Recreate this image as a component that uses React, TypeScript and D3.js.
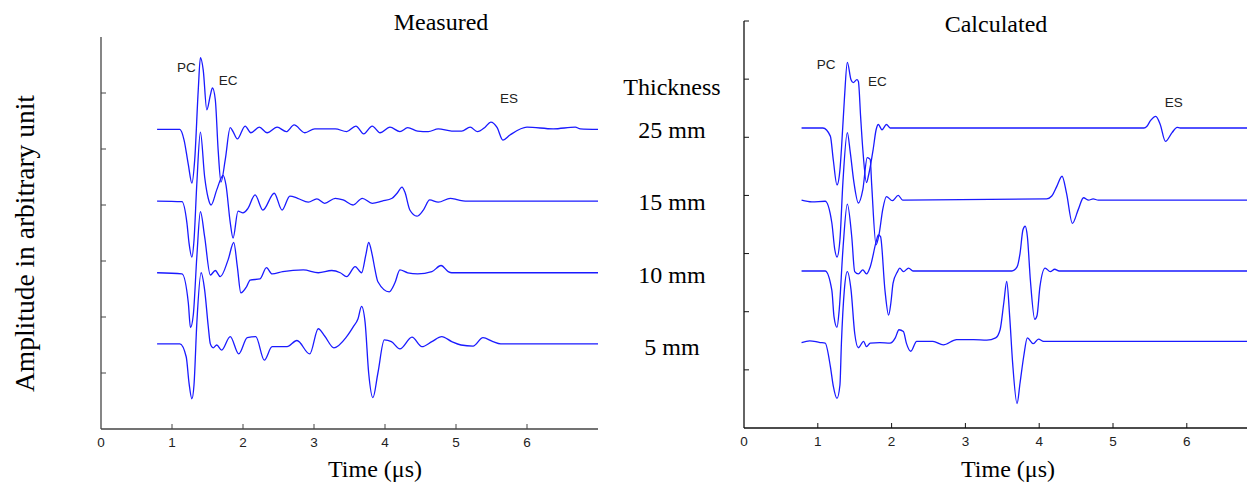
import React from "react";
import * as d3 from "d3";

type Pt = [number, number];

// ---- data (time in µs, amplitude in arbitrary axis units, relative to each trace's baseline) ----
const xTicks = [0, 1, 2, 3, 4, 5, 6];
const thicknessLabels = ["25 mm", "15 mm", "10 mm", "5 mm"];

const measuredOffsets = [5.35, 4.07, 2.79, 1.52];
const calculatedOffsets = [5.16, 3.92, 2.7, 1.49];

const measured25: Pt[] = [
  [0.79, 0], [1.11, 0], [1.17, -0.19], [1.23, -0.63], [1.28, -0.96], [1.32, -0.54], [1.37, 0.71],
  [1.4, 1.28], [1.44, 1.06], [1.49, 0.35], [1.54, 0.61], [1.57, 0.74], [1.61, 0.53], [1.65, -0.37],
  [1.69, -0.94], [1.75, -0.54], [1.82, 0.03], [1.86, -0.04], [1.92, -0.17], [2.03, 0.06], [2.11, -0.06],
  [2.23, 0.04], [2.34, -0.06], [2.48, 0.04], [2.61, -0.04], [2.72, 0.08], [2.87, -0.06], [3.01, 0.01],
  [3.3, 0.01], [3.46, -0.04], [3.59, 0.06], [3.7, -0.08], [3.82, 0.06], [3.93, -0.06], [4.07, 0.04],
  [4.21, -0.04], [4.32, 0.03], [4.46, -0.03], [4.61, -0.04], [4.75, 0.01], [4.94, -0.03], [5.08, -0.03],
  [5.2, 0.04], [5.3, -0.04], [5.41, 0.04], [5.49, 0.13], [5.58, 0.03], [5.66, -0.19], [5.76, -0.1],
  [6.0, 0.04], [6.37, 0.01], [6.68, 0.04], [6.75, 0.01], [7.0, 0],
];
const measured15: Pt[] = [
  [0.79, 0], [1.14, -0.01], [1.21, -0.39], [1.24, -0.75], [1.28, -1.0], [1.31, -0.7], [1.35, 0.32],
  [1.4, 1.23], [1.46, 0.43], [1.51, 0.05], [1.55, -0.07], [1.63, 0.2], [1.72, 0.46], [1.76, 0.29],
  [1.82, -0.38], [1.86, -0.66], [1.93, -0.18], [2.0, -0.21], [2.07, -0.13], [2.17, 0.11], [2.28, -0.16],
  [2.44, 0.14], [2.55, -0.16], [2.66, 0.09], [2.77, 0.05], [2.92, -0.02], [3.04, 0.04], [3.15, -0.04],
  [3.3, 0.05], [3.41, 0.02], [3.55, -0.07], [3.68, 0.05], [3.82, -0.04], [3.96, 0], [4.1, 0.05],
  [4.17, 0.14], [4.24, 0.25], [4.28, 0.16], [4.35, -0.16], [4.45, -0.27], [4.54, -0.16], [4.63, 0.02],
  [4.75, -0.02], [4.92, 0.05], [5.03, 0.02], [5.13, 0], [7.0, 0],
];
const measured10: Pt[] = [
  [0.79, 0], [1.14, -0.02], [1.23, -0.54], [1.26, -0.98], [1.3, -0.75], [1.35, 0.29], [1.4, 1.09],
  [1.46, 0.64], [1.54, -0.04], [1.61, 0.04], [1.68, -0.07], [1.79, 0.23], [1.87, 0.54], [1.92, 0.11],
  [1.97, -0.36], [2.05, -0.25], [2.1, -0.13], [2.24, -0.11], [2.33, 0.09], [2.41, -0.02], [2.56, 0.02],
  [2.85, 0.05], [3.06, 0], [3.25, 0.04], [3.37, 0], [3.46, -0.07], [3.58, 0.11], [3.67, 0], [3.73, 0.32],
  [3.77, 0.54], [3.82, 0.32], [3.86, 0.05], [3.9, -0.16], [4.06, -0.34], [4.14, -0.18], [4.21, 0.05],
  [4.32, 0], [4.46, -0.02], [4.66, 0.02], [4.79, 0.13], [4.89, 0.02], [4.94, 0], [7.0, 0],
];
const measured5: Pt[] = [
  [0.79, 0], [1.11, 0], [1.2, -0.23], [1.24, -0.7], [1.28, -0.98], [1.31, -0.73], [1.35, 0.38],
  [1.41, 1.27], [1.46, 0.96], [1.51, 0.32], [1.54, 0], [1.58, -0.07], [1.63, -0.02], [1.7, -0.11],
  [1.82, 0.13], [1.94, -0.18], [2.06, 0.11], [2.18, 0.13], [2.3, -0.29], [2.41, -0.05], [2.62, -0.05],
  [2.76, 0.06], [2.94, -0.18], [3.06, 0.27], [3.15, 0.14], [3.28, -0.07], [3.46, 0.13], [3.55, 0.3],
  [3.62, 0.45], [3.67, 0.67], [3.72, 0.38], [3.77, -0.52], [3.83, -0.96], [3.9, -0.52], [3.99, 0.07],
  [4.09, 0.04], [4.21, -0.09], [4.38, 0.12], [4.52, -0.05], [4.66, 0.04], [4.8, 0.13], [4.94, 0.04],
  [5.07, -0.02], [5.24, -0.04], [5.38, 0.11], [5.52, 0.04], [5.63, 0], [7.0, 0],
];

const calculated25: Pt[] = [
  [0.78, 0], [1.07, 0], [1.17, -0.14], [1.21, -0.55], [1.26, -0.98], [1.3, -0.72], [1.32, -0.37],
  [1.36, 0.49], [1.4, 1.13], [1.45, 0.83], [1.48, 0.78], [1.53, 0.83], [1.55, 0.8], [1.58, 0.2],
  [1.61, -0.37], [1.66, -0.94], [1.69, -0.8], [1.75, -0.37], [1.79, -0.03], [1.82, 0.06], [1.87, -0.03],
  [1.93, 0.06], [1.98, 0], [5.42, 0], [5.46, 0.03], [5.51, 0.13], [5.58, 0.2], [5.64, 0.06],
  [5.71, -0.23], [5.8, -0.08], [5.87, 0.01], [5.91, 0], [7.0, 0],
];
const calculated15: Pt[] = [
  [0.78, 0], [0.92, -0.03], [1.1, -0.02], [1.19, -0.39], [1.23, -0.85], [1.26, -0.98], [1.3, -0.68],
  [1.34, 0.3], [1.4, 1.16], [1.44, 0.82], [1.49, 0.3], [1.55, -0.05], [1.61, 0.18], [1.67, 0.73],
  [1.71, 0.7], [1.73, 0.27], [1.79, -0.77], [1.83, -0.59], [1.88, -0.16], [1.93, 0.06], [2.01, -0.01],
  [2.09, 0.08], [2.15, 0], [4.1, 0.02], [4.17, 0.07], [4.24, 0.24], [4.31, 0.41], [4.37, 0.12],
  [4.45, -0.4], [4.53, -0.16], [4.6, 0.04], [4.67, 0], [4.73, 0.02], [4.8, 0], [7.0, 0],
];
const calculated10: Pt[] = [
  [0.78, 0], [1.1, 0], [1.19, -0.33], [1.22, -0.79], [1.26, -0.97], [1.29, -0.67], [1.34, 0.36],
  [1.4, 1.15], [1.46, 0.59], [1.5, -0.01], [1.55, -0.05], [1.61, 0.02], [1.66, -0.05], [1.71, 0.07],
  [1.79, 0.5], [1.82, 0.62], [1.85, 0.59], [1.91, -0.33], [1.96, -0.76], [1.99, -0.55], [2.02, -0.21],
  [2.08, -0.01], [2.11, 0.05], [2.16, -0.01], [2.23, 0.05], [2.29, 0], [3.63, 0], [3.7, 0.07],
  [3.74, 0.3], [3.78, 0.71], [3.81, 0.77], [3.84, 0.59], [3.88, -0.15], [3.94, -0.83], [3.97, -0.77],
  [4.01, -0.27], [4.08, 0.05], [4.15, -0.01], [4.21, 0.03], [4.27, 0], [7.0, 0],
];
const calculated5: Pt[] = [
  [0.78, -0.02], [0.89, 0.01], [1.03, -0.02], [1.1, -0.03], [1.17, -0.43], [1.21, -0.77], [1.26, -0.98],
  [1.3, -0.75], [1.32, -0.03], [1.36, 0.89], [1.4, 1.2], [1.45, 0.89], [1.5, 0.14], [1.55, -0.11],
  [1.62, 0], [1.66, -0.09], [1.71, -0.03], [1.84, -0.02], [1.98, -0.03], [2.05, 0.06], [2.1, 0.2],
  [2.16, 0.17], [2.2, -0.03], [2.26, -0.17], [2.34, 0], [2.56, 0], [2.7, -0.06], [2.88, 0.03],
  [3.11, 0.03], [3.29, 0.02], [3.41, 0.06], [3.47, 0.2], [3.52, 0.66], [3.56, 1.03], [3.6, 0.43],
  [3.64, -0.37], [3.7, -1.07], [3.74, -0.72], [3.79, -0.26], [3.84, 0.06], [3.92, -0.04], [3.99, 0.04],
  [4.06, 0], [7.0, 0],
];

const measuredTraces = [measured25, measured15, measured10, measured5];
const calculatedTraces = [calculated25, calculated15, calculated10, calculated5];

const measuredNotes = [
  { label: "PC", t: 1.07, y: 6.38 },
  { label: "EC", t: 1.66, y: 6.14 },
  { label: "ES", t: 5.62, y: 5.82 },
];
const calculatedNotes = [
  { label: "PC", t: 0.985, y: 6.17 },
  { label: "EC", t: 1.68, y: 5.88 },
  { label: "ES", t: 5.7, y: 5.52 },
];

const SERIF = "'Liberation Serif', 'Times New Roman', serif";
const SANS = "'Liberation Sans', Arial, Helvetica, sans-serif";
const LINE = "#1a1aff";

type PanelProps = {
  x0: number; x1: number; yBottom: number; yTop: number;
  traces: Pt[][]; offsets: number[]; notes: { label: string; t: number; y: number }[];
  yTicks: number[]; axisColor: string;
};

function Panel({ x0, x1, yBottom, yTop, traces, offsets, notes, yTicks, axisColor }: PanelProps) {
  const x = d3.scaleLinear().domain([0, 7]).range([x0, x1]);
  const y = d3.scaleLinear().domain([0, 7]).range([yBottom, yTop]);
  return (
    <g>
      {traces.map((tr, i) => {
        const line = d3
          .line<Pt>()
          .x((d) => x(d[0]))
          .y((d) => y(d[1] + offsets[i]))
          .curve(d3.curveMonotoneX);
        return <path key={i} d={line(tr) || ""} fill="none" stroke={LINE} strokeWidth={1.3} />;
      })}
      {/* axes */}
      <line x1={x(0)} x2={x(0)} y1={y(0)} y2={y(7)} stroke={axisColor} strokeWidth={1.3} />
      <line x1={x(0)} x2={x(7)} y1={y(0)} y2={y(0)} stroke={axisColor} strokeWidth={1.3} />
      {yTicks.map((v) => (
        <line key={"yt" + v} x1={x(0)} x2={x(0) + 5} y1={y(v)} y2={y(v)} stroke={axisColor} strokeWidth={1} />
      ))}
      {xTicks.map((v) => (
        <g key={"xt" + v}>
          {v > 0 && <line x1={x(v)} x2={x(v)} y1={y(0)} y2={y(0) - 5} stroke={axisColor} strokeWidth={1} />}
          <text x={x(v)} y={y(0) + 18} textAnchor="middle" fontFamily={SANS} fontSize={13.5} fill="#222">
            {v}
          </text>
        </g>
      ))}
      {notes.map((n) => (
        <text key={n.label} x={x(n.t)} y={y(n.y)} fontFamily={SANS} fontSize={13.5} fill="#222">
          {n.label}
        </text>
      ))}
    </g>
  );
}

export default function App() {
  return (
    <div style={{ position: "absolute", left: 0, top: 0, width: 1247, height: 488, background: "#fff" }}>
      <svg width={1247} height={488} style={{ display: "block" }}>
        <rect width={1247} height={488} fill="#fff" />
        <Panel
          x0={101} x1={598} yBottom={429} yTop={37}
          traces={measuredTraces} offsets={measuredOffsets} notes={measuredNotes}
          yTicks={[1, 2, 3, 4, 5, 6]} axisColor="#444"
        />
        <Panel
          x0={744} x1={1260.6} yBottom={428} yTop={21}
          traces={calculatedTraces} offsets={calculatedOffsets} notes={calculatedNotes}
          yTicks={[1, 2, 3, 4, 5, 6, 7]} axisColor="#111"
        />
        <text x={441} y={30} textAnchor="middle" fontFamily={SERIF} fontSize={24} fill="#000">Measured</text>
        <text x={996} y={32} textAnchor="middle" fontFamily={SERIF} fontSize={24} fill="#000">Calculated</text>
        <text x={672} y={95} textAnchor="middle" fontFamily={SERIF} fontSize={24} fill="#000">Thickness</text>
        {thicknessLabels.map((t, i) => (
          <text key={t} x={672} y={138 + i * 72.3} textAnchor="middle" fontFamily={SERIF} fontSize={24} fill="#000">
            {t}
          </text>
        ))}
        <text
          transform="translate(34,243.5) rotate(-90)"
          textAnchor="middle"
          fontFamily={SERIF}
          fontSize={26.5}
          textLength={297}
          lengthAdjust="spacingAndGlyphs"
          fill="#000"
        >
          Amplitude in arbitrary unit
        </text>
        <text x={375} y={477} textAnchor="middle" fontFamily={SERIF} fontSize={24} fill="#000">Time (μs)</text>
        <text x={1008} y={477} textAnchor="middle" fontFamily={SERIF} fontSize={24} fill="#000">Time (μs)</text>
      </svg>
    </div>
  );
}
